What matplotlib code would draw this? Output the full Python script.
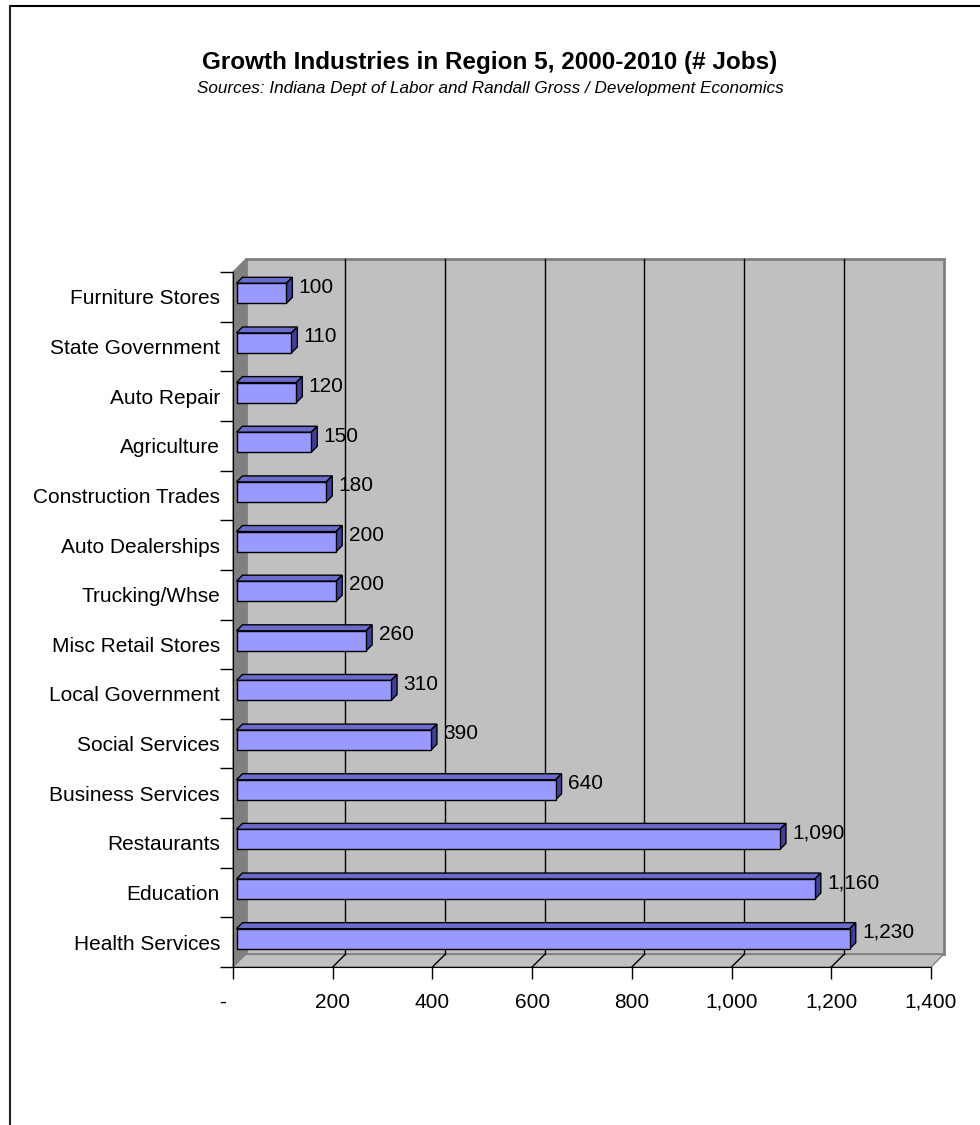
import matplotlib
matplotlib.use("Agg")
import matplotlib.pyplot as plt
from matplotlib.patches import Polygon
from matplotlib.lines import Line2D
from matplotlib.transforms import ScaledTranslation

# ---------------- data ----------------
categories = [
    "Furniture Stores", "State Government", "Auto Repair", "Agriculture",
    "Construction Trades", "Auto Dealerships", "Trucking/Whse",
    "Misc Retail Stores", "Local Government", "Social Services",
    "Business Services", "Restaurants", "Education", "Health Services",
]
jobs = [100, 110, 120, 150, 180, 200, 200, 260, 310, 390, 640, 1090, 1160, 1230]
x_ticks = [0, 200, 400, 600, 800, 1000, 1200, 1400]
x_tick_labels = ["-", "200", "400", "600", "800", "1,000", "1,200", "1,400"]
title = "Growth Industries in Region 5, 2000-2010 (# Jobs)"
subtitle = "Sources: Indiana Dept of Labor and Randall Gross / Development Economics"

# ---------------- style ----------------
FONT = ["Liberation Sans", "DejaVu Sans"]
plt.rcParams["font.family"] = FONT
W, H, DPI = 980, 1125, 100
FS = 15
FRONT_COL, TOP_COL, SIDE_COL = "#9999FF", "#6B6BCC", "#40409A"
WALL, SIDE_WALL, WALL_EDGE = "#C0C0C0", "#808080", "#808080"

fig = plt.figure(figsize=(W / DPI, H / DPI), dpi=DPI)
ax_l, ax_r, ax_t, ax_b = 233, 931, 272, 967   # front plane in pixels
ax = fig.add_axes([ax_l / W, 1 - ax_b / H, (ax_r - ax_l) / W, (ax_b - ax_t) / H])
n = len(categories)
xmax = x_ticks[-1]
ax.set_xlim(0, xmax)
ax.set_ylim(n - 0.5, -0.5)
ax.patch.set_visible(False)

# conversion of pixel offsets into data units
ux = xmax / (ax_r - ax_l)
uy = n / (ax_b - ax_t)
DEPTH = 12.6      # depth of the 3-D box (px)
FRONT = 3.5       # bar front offset into the box (px)
BAR_D = 6.0       # bar depth (px)
BAR_H = 20 * uy   # bar height in category units

top, bot = -0.5, n - 0.5
dx, dy = DEPTH * ux, DEPTH * uy

# side wall
ax.add_patch(Polygon([(0, top), (dx, top - dy), (dx, bot - dy), (0, bot)],
                     closed=True, facecolor=SIDE_WALL, edgecolor=SIDE_WALL,
                     lw=1, zorder=1, clip_on=False))
# back wall
ax.add_patch(Polygon([(dx, top - dy), (xmax + dx, top - dy),
                      (xmax + dx, bot - dy), (dx, bot - dy)],
                     closed=True, facecolor=WALL, edgecolor=WALL_EDGE,
                     lw=2, zorder=1, clip_on=False))
# floor
ax.add_patch(Polygon([(0, bot), (dx, bot - dy), (xmax + dx, bot - dy), (xmax, bot)],
                     closed=True, facecolor=WALL, edgecolor=WALL_EDGE,
                     lw=1, zorder=1.5, clip_on=False))
# gridlines on back wall and floor
for xv in x_ticks[1:-1]:
    ax.plot([xv + dx, xv + dx], [top - dy, bot - dy], color="black", lw=1,
            zorder=2, clip_on=False)
    ax.plot([xv, xv + dx], [bot, bot - dy], color="black", lw=1,
            zorder=2, clip_on=False)

# bars
fx, fy = FRONT * ux, FRONT * uy
bx, by = BAR_D * ux, BAR_D * uy
ypos = [i - fy for i in range(n)]
ax.barh(ypos, jobs, height=BAR_H, left=fx, color=FRONT_COL,
        edgecolor="black", lw=1, zorder=5)
for yc, v in zip(ypos, jobs):
    y0, y1 = yc - BAR_H / 2, yc + BAR_H / 2
    x0, x1 = fx, fx + v
    ax.add_patch(Polygon([(x0, y0), (x0 + bx, y0 - by), (x1 + bx, y0 - by), (x1, y0)],
                         closed=True, facecolor=TOP_COL, edgecolor="black",
                         lw=1, zorder=4))
    ax.add_patch(Polygon([(x1, y0), (x1 + bx, y0 - by), (x1 + bx, y1 - by), (x1, y1)],
                         closed=True, facecolor=SIDE_COL, edgecolor="black",
                         lw=1, zorder=4))
    ax.annotate(f"{v:,}", xy=(x1, yc), xytext=(9, 4.5), textcoords="offset points",
                ha="left", va="center", fontsize=FS, color="black", zorder=6)

# axes spines / ticks
for s in ["top", "right"]:
    ax.spines[s].set_visible(False)
ax.spines["left"].set_zorder(6)
ax.spines["bottom"].set_zorder(6)
ax.set_xticks(x_ticks)
ax.set_xticklabels(x_tick_labels, fontsize=FS)
ax.tick_params(axis="x", length=8.6, width=1, direction="out", pad=10)
ax.set_yticks(range(n))
ax.set_yticklabels(categories, fontsize=FS)
ax.tick_params(axis="y", which="major", length=0, pad=9.4)
ax.set_yticks([i - 0.5 for i in range(n + 1)], minor=True)
ax.tick_params(axis="y", which="minor", length=9.4, width=1, direction="out")

# shift the "-" zero label left like the original
lab0 = ax.get_xticklabels()[0]
lab0.set_transform(lab0.get_transform() + ScaledTranslation(-10 / DPI, 0, fig.dpi_scale_trans))

# titles
fig.text(0.5, 1 - 62 / H, title, ha="center", va="center", fontsize=17.5,
         fontweight="bold")
fig.text(0.5, 1 - 89 / H, subtitle, ha="center", va="center", fontsize=12.3,
         style="italic")

# outer frame (top and left edges)
fig.add_artist(Line2D([10 / W, 1], [1 - 6 / H, 1 - 6 / H], color="black", lw=1.5,
                      transform=fig.transFigure))
fig.add_artist(Line2D([10 / W, 10 / W], [0, 1 - 6 / H], color="#202020", lw=1.5,
                      transform=fig.transFigure))

fig.savefig("out.png", dpi=DPI, facecolor="white")
